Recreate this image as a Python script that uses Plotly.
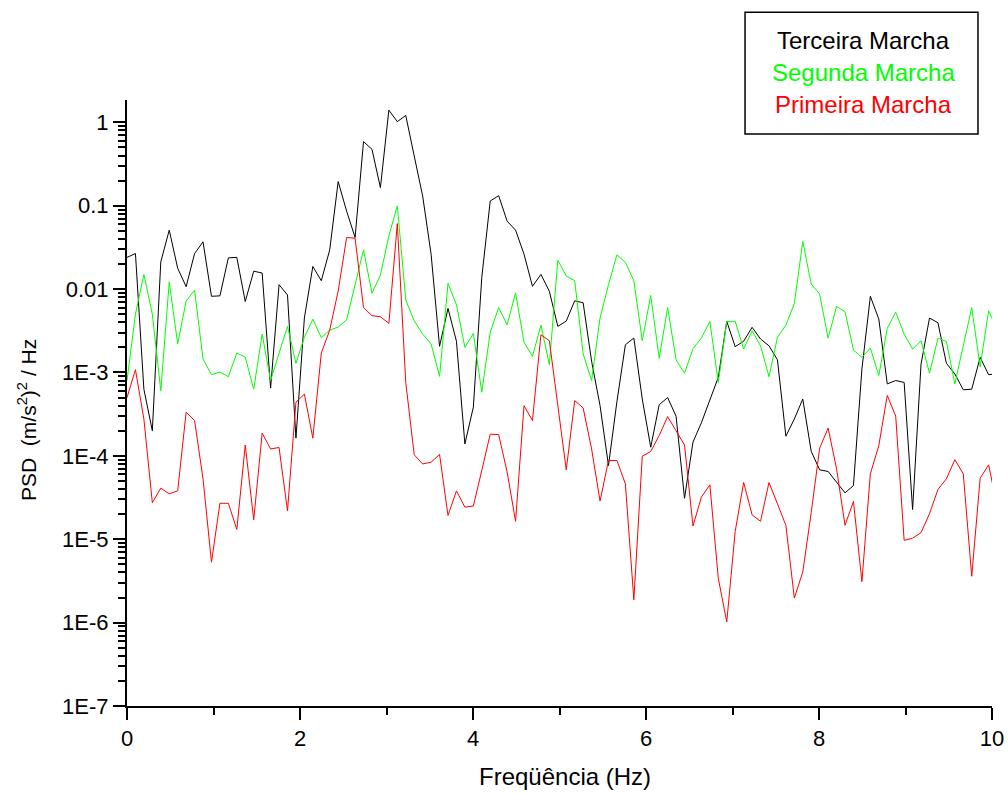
import plotly.graph_objects as go

# Frequency bins (Hz): spacing 100/1024 Hz
df_hz = 100.0 / 1024.0
n_pts = 104
freq = [i * df_hz for i in range(n_pts)]

terceira = [0.024, 0.0267, 6.3e-4, 2.0e-4, 0.0212, 0.051, 0.0178, 0.0107, 0.0267, 0.0369,
            0.0082, 0.0083, 0.0237, 0.024, 0.0071, 0.0164, 0.0156, 6.5e-4, 0.0113, 0.0085,
            1.63e-4, 0.0045, 0.0187, 0.0126, 0.0296, 0.195, 0.086, 0.0416, 0.587, 0.475,
            0.165, 1.40, 1.02, 1.21, 0.395, 0.131, 0.0262, 2.06e-3, 5.87e-3, 2.37e-3,
            1.39e-4, 3.83e-4, 0.0138, 0.114, 0.132, 0.0652, 0.051, 0.0262, 0.0108, 0.015,
            9.4e-3, 3.57e-3, 4.14e-3, 7.24e-3, 6.86e-3, 1.36e-3, 4.0e-4, 7.66e-5, 4.5e-4, 2.15e-3,
            2.59e-3, 4.8e-4, 1.27e-4, 4.1e-4, 5.0e-4, 2.99e-4, 3.1e-5, 1.46e-4, 2.5e-4, 4.6e-4,
            8.75e-4, 4.1e-3, 2.04e-3, 2.37e-3, 3.48e-3, 2.52e-3, 2.09e-3, 1.42e-3, 1.72e-4, 2.77e-4,
            4.8e-4, 1.13e-4, 6.8e-5, 6.5e-5, 4.8e-5, 3.6e-5, 4.4e-5, 1.1e-3, 8.2e-3, 4.37e-3,
            7.3e-4, 8.0e-4, 7.6e-4, 2.27e-5, 1.26e-3, 4.5e-3, 3.95e-3, 1.29e-3, 9.6e-4, 6.2e-4,
            6.3e-4, 1.52e-3, 9.4e-4, 9.7e-4]

segunda = [8e-4, 5.0e-3, 0.015, 5.0e-3, 6.05e-4, 0.0122, 2.2e-3, 7.2e-3, 9.7e-3, 1.45e-3,
           9.4e-4, 1.01e-3, 8.9e-4, 1.71e-3, 1.53e-3, 6.3e-4, 2.89e-3, 8.0e-4, 1.7e-3, 3.57e-3,
           1.29e-3, 2.64e-3, 4.37e-3, 2.61e-3, 3.23e-3, 3.5e-3, 4.29e-3, 0.011, 0.0296, 8.9e-3,
           0.0147, 0.0435, 0.0995, 7.4e-3, 4.17e-3, 2.89e-3, 2.2e-3, 9.0e-4, 0.0117, 6.5e-3,
           2.0e-3, 2.94e-3, 5.8e-4, 3.03e-3, 6.0e-3, 3.74e-3, 9.0e-3, 2.3e-3, 1.56e-3, 3.7e-3,
           1.24e-3, 0.0222, 0.0144, 0.0126, 1.67e-3, 8.0e-4, 4.5e-3, 0.0113, 0.0258, 0.0209,
           0.0126, 2.4e-3, 8.4e-3, 1.48e-3, 6.0e-3, 1.42e-3, 9.8e-4, 1.93e-3, 2.59e-3, 4.1e-3,
           7.6e-4, 4.1e-3, 4.1e-3, 1.91e-3, 3.17e-3, 2.09e-3, 8.9e-4, 2.64e-3, 3.7e-3, 6.7e-3,
           0.0373, 0.0115, 8.7e-3, 2.57e-3, 6.2e-3, 5.35e-3, 1.86e-3, 1.52e-3, 1.96e-3, 9.2e-4,
           3.38e-3, 5.3e-3, 2.89e-3, 1.91e-3, 2.4e-3, 9.8e-4, 2.57e-3, 2.36e-3, 7.3e-4, 2.09e-3,
           6.0e-3, 1.17e-3, 5.5e-3, 3.3e-3]

primeira = [5.0e-4, 1.08e-3, 2.77e-4, 2.74e-5, 4.1e-5, 3.5e-5, 3.8e-5, 3.34e-4, 2.65e-4, 5.3e-5,
            5.3e-6, 2.7e-5, 2.7e-5, 1.31e-5, 1.35e-4, 1.71e-5, 1.87e-4, 1.21e-4, 1.26e-4, 2.2e-5,
            4.4e-4, 5.5e-4, 1.63e-4, 1.71e-3, 3.23e-3, 9.5e-3, 0.0416, 0.0408, 6.0e-3, 4.8e-3,
            4.67e-3, 3.88e-3, 0.061, 7.6e-4, 1.03e-4, 8.0e-5, 8.4e-5, 1.04e-4, 1.93e-5, 3.8e-5,
            2.43e-5, 2.5e-5, 6.7e-5, 1.82e-4, 1.8e-4, 6.4e-5, 1.64e-5, 4.0e-4, 2.65e-4, 2.84e-3,
            2.4e-3, 4.0e-4, 6.8e-5, 4.6e-4, 3.76e-4, 1.21e-4, 2.87e-5, 8.8e-5, 8.8e-5, 4.6e-5,
            1.88e-6, 9.9e-5, 1.13e-4, 1.75e-4, 2.96e-4, 2.0e-4, 1.35e-4, 1.44e-5, 3.2e-5, 4.5e-5,
            3.4e-6, 1.02e-6, 1.24e-5, 4.8e-5, 1.96e-5, 1.64e-5, 4.8e-5, 2.66e-5, 1.47e-5, 1.97e-6,
            4.05e-6, 2.1e-5, 1.24e-4, 2.15e-4, 7.0e-5, 1.47e-5, 2.84e-5, 3.1e-6, 6.1e-5, 1.33e-4,
            5.3e-4, 3.0e-4, 9.7e-6, 1.03e-5, 1.2e-5, 2.02e-5, 3.95e-5, 5.3e-5, 9.0e-5, 6.1e-5,
            3.6e-6, 5.4e-5, 7.8e-5, 2.5e-5]

series_names = ["Terceira Marcha", "Segunda Marcha", "Primeira Marcha"]
series_colors = ["#000000", "#00ff00", "#ff0000"]

y_tickvals = [1e-7, 1e-6, 1e-5, 1e-4, 1e-3, 0.01, 0.1, 1]
y_ticktext = ["1E-7", "1E-6", "1E-5", "1E-4", "1E-3", "0.01", "0.1", "1"]
x_tickvals = [0, 2, 4, 6, 8, 10]
x_minor = [1, 3, 5, 7, 9]
minor_y = [m * 10.0 ** e for e in range(-7, 1) for m in range(2, 10)]

x_title = "Freqüência (Hz)"
y_title = "PSD  (m/s<sup>2</sup>)<sup>2</sup> / Hz"

FONT = "Liberation Sans, Arial, sans-serif"

fig = go.Figure()
for name, vals, col in zip(series_names, [terceira, segunda, primeira], series_colors):
    fig.add_trace(go.Scatter(x=freq, y=vals, mode="lines", name=name,
                             line=dict(color=col, width=1), showlegend=False))

fig.update_layout(
    width=1008, height=794,
    margin=dict(l=127, r=16, t=100, b=88),
    paper_bgcolor="white", plot_bgcolor="white",
    font=dict(family=FONT, size=22, color="black"),
    xaxis=dict(range=[0, 10], tickmode="array", tickvals=x_tickvals, automargin=False,
               ticks="outside", ticklen=12, tickwidth=2, tickcolor="black",
               showline=True, linewidth=2, linecolor="black", showgrid=False, zeroline=False,
               tickfont=dict(size=22),
               minor=dict(ticks="outside", ticklen=7, tickwidth=2, tickcolor="black",
                          tickmode="array", tickvals=x_minor, showgrid=False)),
    yaxis=dict(type="log", range=[-7, 0.268], tickmode="array", automargin=False,
               tickvals=y_tickvals, ticktext=y_ticktext,
               ticks="outside", ticklen=12, tickwidth=2, tickcolor="black",
               showline=True, linewidth=2, linecolor="black", showgrid=False, zeroline=False,
               tickfont=dict(size=22),
               minor=dict(ticks="outside", ticklen=7, tickwidth=2, tickcolor="black",
                          tickmode="array", tickvals=minor_y, showgrid=False)),
)

# axis titles
fig.add_annotation(x=0.506, y=-0.117, xref="paper", yref="paper", text=x_title,
                   showarrow=False, font=dict(size=24, color="black", family=FONT),
                   xanchor="center", yanchor="middle")
fig.add_annotation(x=-0.1156, y=0.472, xref="paper", yref="paper", text=y_title,
                   textangle=-90, showarrow=False,
                   font=dict(size=21, color="black", family=FONT),
                   xanchor="center", yanchor="middle")

# legend box drawn as a framed text block
fig.add_shape(type="rect", xref="paper", yref="paper",
              x0=0.7145, x1=0.9838, y0=0.944, y1=1.145,
              line=dict(color="black", width=1.5), fillcolor="white", layer="above")
legend_y = [1.099, 1.046, 0.992]
for name, col, yy in zip(series_names, series_colors, legend_y):
    fig.add_annotation(x=0.851, y=yy, xref="paper", yref="paper", text=name,
                       showarrow=False, font=dict(size=24, color=col, family=FONT),
                       xanchor="center", yanchor="middle")

fig.write_html("out.html")
